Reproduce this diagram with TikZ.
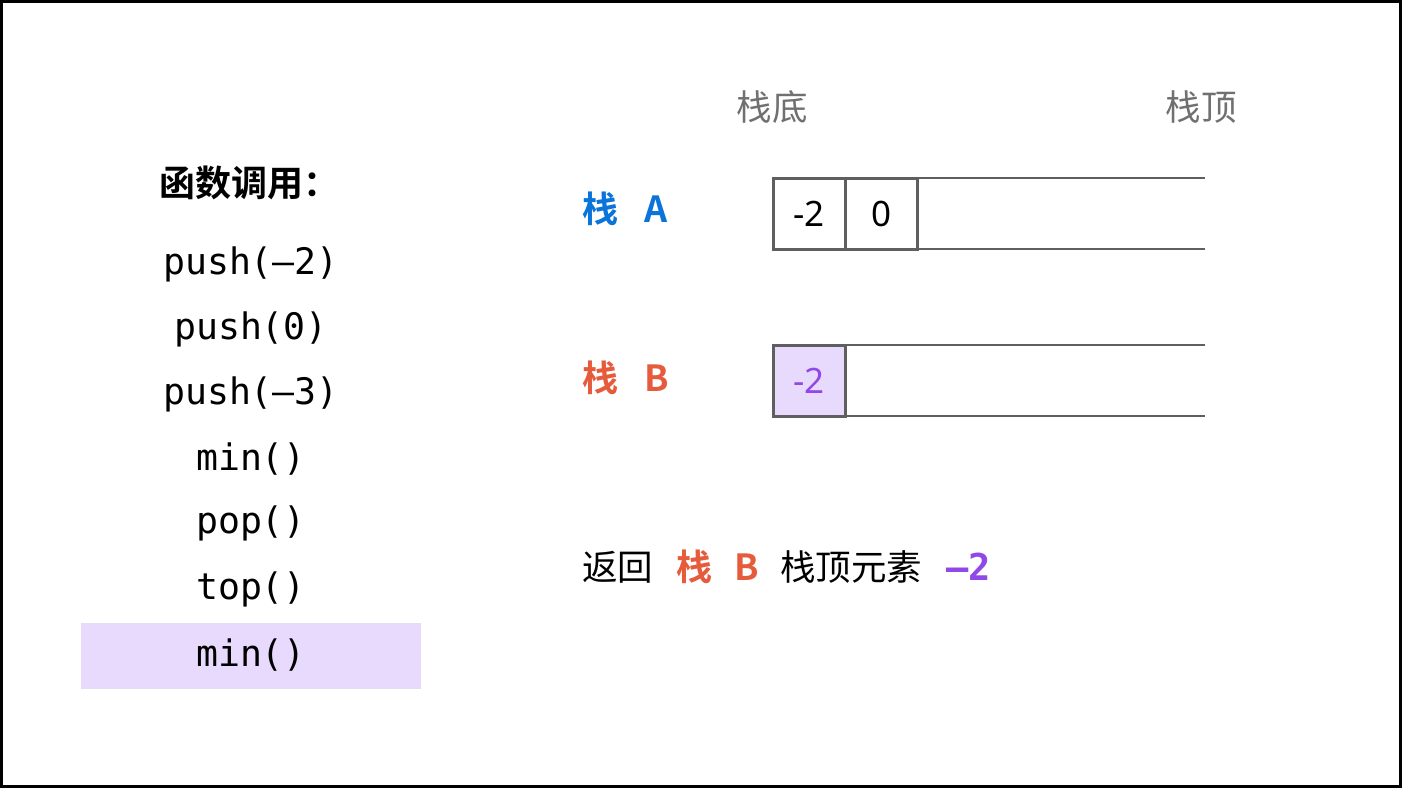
\documentclass[tikz,border=0pt]{standalone}
\usepackage{fontspec}
\newfontfamily\cjk{Noto Sans CJK SC}[BoldFont={Noto Sans CJK SC Bold}]
\newfontfamily\mono{DejaVu Sans Mono}
\newfontfamily\nsans{Noto Sans}
\definecolor{hl}{RGB}{232,218,252}
\definecolor{ablue}{RGB}{10,116,218}
\definecolor{bred}{RGB}{229,91,60}
\definecolor{pur}{RGB}{145,72,232}
\definecolor{gline}{RGB}{95,95,95}
\definecolor{gtext}{RGB}{112,112,112}
\tikzset{
  code/.style={font=\mono\fontsize{36.5}{40}\selectfont, inner sep=0pt},
  cjkt/.style={font=\cjk\fontsize{35.5}{40}\selectfont, inner sep=0pt},
  cjkb/.style={font=\cjk\bfseries\fontsize{36}{40}\selectfont, inner sep=0pt},
  cell/.style={draw=gline, line width=3pt, minimum width=72pt, minimum height=71pt, inner sep=0pt, font=\nsans\fontsize{35}{40}\selectfont},
  rail/.style={draw=gline, line width=2pt},
}
\begin{document}
\begin{tikzpicture}[x=1pt,y=-1pt]
\draw[line width=3pt, fill=white] (1.5,1.5) rectangle (1400.5,786.5);
\useasboundingbox (0,0) rectangle (1402,788);
% left column
\node[cjkb, anchor=west] (title) at (159,183) {函数调用：};
\fill[hl] (81,623) rectangle (421,689);
\node[code] (c1) at (251,264) {push(–2)};
\node[code] (c2) at (251,329) {push(0)};
\node[code] (c3) at (251,394) {push(–3)};
\node[code] (c4) at (251,459) {min()};
\node[code] (c5) at (251,523) {pop()};
\node[code] (c6) at (251,589) {top()};
\node[code] (c7) at (251,655) {min()};
% headers
\node[cjkt, text=gtext] (bot) at (772,107) {栈底};
\node[cjkt, text=gtext] (top) at (1201,107) {栈顶};
% stack labels
\node[cjkb, text=ablue, anchor=west] (la) at (582,209) {栈\hspace{26pt}A};
\node[cjkb, text=bred, anchor=west] (lb) at (582,378) {栈\hspace{26pt}B};
% stack A
\draw[rail] (773,178) -- (1205,178);
\draw[rail] (773,249) -- (1205,249);
\node[cell] (a1) at (809,213.5) {-2};
\node[cell] (a2) at (881,213.5) {0};
% stack B
\draw[rail] (773,345) -- (1205,345);
\draw[rail] (773,416) -- (1205,416);
\node[cell, fill=hl, text=pur] (b1) at (809,380.5) {-2};
% result line
\node[cjkt, anchor=west] (r1) at (582,567) {返回};
\node[cjkb, text=bred, anchor=west] (r2) at (676,567) {栈\hspace{22pt}B};
\node[cjkt, anchor=west] (r3) at (780,567) {栈顶元素};
\node[cjkb, text=pur, anchor=west] (r4) at (946,567) {\mono\bfseries\fontsize{37}{40}\selectfont –2};
\end{tikzpicture}
\end{document}
